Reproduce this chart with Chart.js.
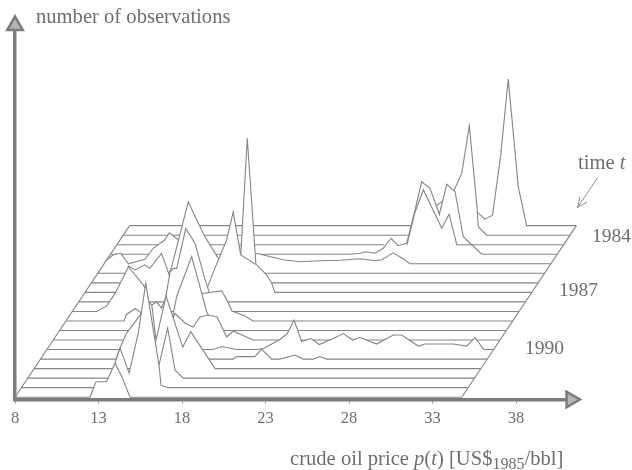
<!DOCTYPE html>
<html>
<head>
<meta charset="utf-8">
<style>html,body{margin:0;padding:0;background:#fff}#w{width:632px;height:470px}</style>
<script src="https://cdn.jsdelivr.net/npm/chart.js@4"></script>
</head>
<body>
<div id="w"><canvas id="c" width="632" height="470"></canvas></div>
<script>
// x tick values (US$ per barrel)
const priceTicks = [8, 13, 18, 23, 28, 33, 38];
const priceStart = 8, priceEnd = 34.75;

// one curve per half year; row 0 is the front, row 18 the back
const price00 = [12.49, 12.85, 13.48, 13.99, 14.41, 14.89];
const count00 = [0, 3.1, 3.1, 6.8, 4, 0];
const price01 = [13.01, 13.61, 13.91, 14.45, 15.00, 15.45, 16.24, 16.36, 16.78];
const count01 = [0, 4.9, 7.9, 2.9, 10.9, 20.9, 4.5, 0.5, 0];
const price02 = [15.74, 15.86, 16.38, 16.82, 17.32];
const count02 = [0, 2.6, 10, 1.6, 0];
const price03 = [14.35, 14.59, 14.73, 15.05, 15.30, 15.90, 16.90, 17.38, 18.84];
const count03 = [0, 7.7, 13.7, 12.7, 5.7, 14.5, 4.3, 7.4, 0];
const price04 = [12.52, 12.76, 13.16, 13.96, 14.25, 14.66, 14.96, 15.25, 15.45, 16.05, 16.47, 17.25, 17.95, 19.52, 19.75, 20.84, 21.24, 21.84, 22.34, 23.24, 23.73, 24.33, 24.73, 25.13];
const count04 = [0, 2.2, 5.2, 8.8, 10.2, 10.8, 11.4, 10.2, 11.8, 3.8, 2.2, 2.8, 0, 0, 0.5, 0.5, 2, 0, 0, 0.8, 0, 0, 0.5, 0];
const price05 = [17.95, 18.47, 19.37, 20.64, 20.96, 21.96, 22.40, 22.80, 23.26, 23.82, 24.31, 25.15, 25.75, 26.31, 26.75, 27.75, 28.74, 29.25, 30.24, 30.64, 32.34, 33.14, 33.64, 34.17];
const count05 = [0, 0.6, 0, 0, 0.2, 2, 3.2, 5.9, 1.6, 2.2, 1, 2.2, 3.2, 1.9, 2.4, 1.1, 2.9, 2.9, 0.7, 1.1, 1.1, 0.7, 2.4, 0];
const price06 = [14.69, 15.11, 15.29, 15.89, 16.37, 16.79, 17.27, 17.81, 18.39, 18.78, 19.96];
const count06 = [0, 4, 5.3, 3.4, 2.6, 4.6, 5, 4.6, 0.6, 1.8, 0];
const price07 = [14.61, 15.01, 15.91, 16.81, 17.31];
const count07 = [0, 6.8, 14.8, 3.8, 0];
const price08 = [11.48, 11.60, 12.14, 12.44, 13.03, 15.43, 15.97, 16.13, 17.33, 17.70, 17.94, 18.72, 19.20];
const count08 = [0, 1.2, 2.5, 1.8, 0, 0.2, 4.2, 5.5, 6, 3.8, 2, 1, 0];
const price09 = [9.46, 10.06, 10.56, 11.36, 12.25, 12.41, 12.65, 13.85];
const count09 = [0, 1.1, 3.6, 8.9, 5.3, 4.3, 0.9, 0];
const price10 = [13.17, 13.47, 13.67, 13.87, 14.41, 14.97, 15.57, 15.87, 16.47];
const count10 = [0, 6, 6.7, 6.7, 14.7, 11.7, 4.4, 1.4, 0];
const price11 = [10.45, 10.59, 10.99, 11.58, 11.88, 12.58, 13.14, 13.38, 14.88, 15.28, 15.66, 16.48, 16.87, 17.32, 18.27, 18.87, 19.17, 19.37];
const count11 = [0, 5.3, 4.5, 5.5, 4.8, 7.8, 2.5, 0, 0, 0.5, 3.9, 10.5, 16.1, 7.5, 5.5, 3.5, 1.9, 0];
const price12 = [12.40, 12.80, 13.80, 14.30, 14.80, 15.58, 16.41];
const count12 = [0, 3.2, 16.2, 12.6, 9.2, 5, 0];
const price13 = [16.27, 16.56, 16.95, 17.47, 17.71];
const count13 = [0, 3.7, 27, 1.7, 0];
const price14 = [8.11, 8.55, 8.99, 9.45, 10.44, 10.94, 11.64, 11.90, 12.44, 13.14, 14.04, 14.70, 16.13, 17.03, 17.23, 18.71, 19.73, 20.92, 22.12, 23.32, 24.22, 24.62, 25.31, 25.89, 26.31];
const count14 = [0.6, 1.8, 2.1, 0, 0.9, 3.1, 4.8, 6.2, 4.8, 2.8, 2.8, 0.4, 0.4, 2, 2, 0.8, 0.4, 0.6, 0.7, 1, 0.6, 0.8, 2.2, 1, 0];
const price15 = [22.34, 22.94, 23.24, 23.84, 24.33, 24.80, 25.23, 25.74, 26.23, 26.63, 27.13, 27.69, 28.13, 28.63, 29.12, 29.53, 30.23];
const count15 = [0, 0.2, 0.5, 0.2, 1.2, 3.2, 1.7, 2.2, 8.8, 14.5, 13.2, 8, 14, 12.5, 3.5, 2.2, 0];
const price16 = [24.00, 24.66, 25.37, 25.85, 26.35, 27.45, 27.89, 28.35];
const count16 = [0, null, 0, 6.5, 11, 3.3, 6.1, 0];
const price17 = [25.47, 26.07, 26.81, 27.07, 27.81, 28.27, 28.72, 29.17, 29.26, 29.76];
const count17 = [0, 3, 6, 6.7, 9, 12.4, 21.9, 6, 1.7, 0];
const price18 = [28.38, 28.78, 29.27, 29.73, 30.21, 30.67, 31.27, 31.77];
const count18 = [0, 2.8, 1.3, 2.1, 13.8, 29.3, 7.8, 0];

const allPrices = [price00, price01, price02, price03, price04, price05, price06, price07, price08, price09, price10, price11, price12, price13, price14, price15, price16, price17, price18];
const allCounts = [count00, count01, count02, count03, count04, count05, count06, count07, count08, count09, count10, count11, count12, count13, count14, count15, count16, count17, count18];
// drawing order, front first (Chart.js paints the last dataset first)
const rowOrder = [0,1,2,3,4,5,6,7,8,9,10,11,12,13,14,16,15,17,18];

// perspective of the waterfall
const shiftX = 0.3814, shiftY = 1.906, liftY = 0.46;
const xMin = 8, xMax = 41.293, yMin = 0, yMax = 74.8;

const LINE = '#858585', AXIS = '#7c7c7c', TEXT = '#6e6e6e';
const SERIF = '"Liberation Serif", serif';

const rowData = r => {
  const pts = [{x: priceStart + r * shiftX, y: liftY + r * shiftY}];
  allPrices[r].forEach((p, i) => {
    const c = allCounts[r][i];
    pts.push({x: p + r * shiftX, y: c === null ? null : c + liftY + r * shiftY});
  });
  pts.push({x: priceEnd + r * shiftX, y: liftY + r * shiftY});
  return pts;
};

const datasets = [];
// axis arrow heads
const arrow = (x, y, rotation) => ({
  data: [{x, y}], showLine: false, pointStyle: 'triangle', pointRadius: 9, rotation,
  pointBackgroundColor: '#b4b4b4', pointBorderColor: AXIS, pointBorderWidth: 2.5, clip: false
});
datasets.push(arrow(xMax, yMin, 90));
datasets.push(arrow(xMin, yMax, 0));
rowOrder.forEach(r => datasets.push({
  data: rowData(r), showLine: true, pointRadius: 0, tension: 0, clip: false,
  borderColor: LINE, borderWidth: 1.1, backgroundColor: '#fff',
  fill: {value: liftY + r * shiftY}, spanGaps: false
}));
// slanted edges of the base plane
[priceStart, priceEnd].forEach(p => datasets.push({
  data: [{x: p, y: liftY}, {x: p + 18 * shiftX, y: liftY + 18 * shiftY}],
  showLine: true, pointRadius: 0, clip: false, borderColor: LINE, borderWidth: 1.1, fill: false
}));

const textRuns = (ctx, x, y, runs) => {
  runs.forEach(([s, font, dy]) => {
    ctx.font = font;
    ctx.fillText(s, x, y + (dy || 0));
    x += ctx.measureText(s).width;
  });
};

const labels = {
  id: 'labels',
  afterDraw(chart) {
    const ctx = chart.ctx;
    ctx.save();
    ctx.fillStyle = TEXT; ctx.textAlign = 'left'; ctx.textBaseline = 'alphabetic';
    const r = `19.5px ${SERIF}`;
    const r2 = `20.6px ${SERIF}`, it2 = `italic 20.6px ${SERIF}`, sub = `16px ${SERIF}`;
    textRuns(ctx, 36, 23, [['number of observations', r2]]);
    textRuns(ctx, 578, 169, [['time ', r2], ['t', it2]]);
    textRuns(ctx, 592, 242, [['1984', r]]);
    textRuns(ctx, 559, 296, [['1987', r]]);
    textRuns(ctx, 525, 354, [['1990', r]]);
    textRuns(ctx, 290, 465, [['crude oil price ', r2], ['p', it2], ['(', r2], ['t', it2], [') [US$', r2], ['1985', sub, 4], ['/bbl]', r2]]);
    // small pointer next to "time t"
    ctx.strokeStyle = '#8c8c8c'; ctx.lineWidth = 1;
    ctx.beginPath();
    ctx.moveTo(597.5, 178); ctx.lineTo(577.5, 207.5);
    ctx.moveTo(577.5, 207.5); ctx.lineTo(580, 197);
    ctx.moveTo(577.5, 207.5); ctx.lineTo(587, 202);
    ctx.stroke();
    ctx.restore();
  }
};

new Chart(document.getElementById('c'), {
  type: 'scatter',
  data: {datasets},
  plugins: [labels],
  options: {
    responsive: false, animation: false, events: [],
    layout: {padding: {left: 15, right: 61, top: 25.5, bottom: 0}},
    plugins: {legend: {display: false}, tooltip: {enabled: false}, filler: {drawTime: 'beforeDatasetDraw', propagate: false}},
    scales: {
      x: {
        type: 'linear', min: xMin, max: xMax,
        afterFit: s => { s.height = 70.5; },
        afterBuildTicks: s => { s.ticks = priceTicks.map(value => ({value})); },
        border: {color: AXIS, width: 3.5},
        grid: {display: true, drawOnChartArea: false, drawTicks: true, tickLength: 4, color: '#8c8c8c'},
        ticks: {color: TEXT, font: {family: SERIF, size: 16.5}, padding: 5, maxRotation: 0, autoSkip: false, callback: v => String(v)}
      },
      y: {
        type: 'linear', min: yMin, max: yMax,
        afterFit: s => { s.width = 0; },
        border: {color: AXIS, width: 3.5},
        grid: {display: false},
        ticks: {display: false}
      }
    }
  }
});
</script>
</body>
</html>
